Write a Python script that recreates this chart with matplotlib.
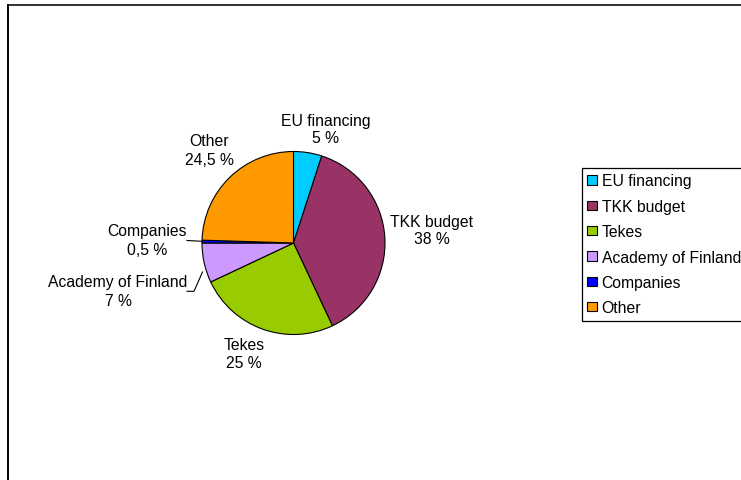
import matplotlib
matplotlib.use("Agg")
import matplotlib.pyplot as plt

plt.rcParams['font.family'] = ['Liberation Sans', 'DejaVu Sans']

categories = ["EU financing", "TKK budget", "Tekes", "Academy of Finland", "Companies", "Other"]
shares = [5, 38, 25, 7, 0.5, 24.5]
colors = ["#00CCFF", "#993366", "#99CC00", "#CC99FF", "#0000FF", "#FF9900"]

W, H = 741, 481
fig = plt.figure(figsize=(W / 100, H / 100), dpi=100)
ax = fig.add_axes([0, 0, 1, 1])

# pixel-like coordinate system, y downward
cx, cy, r = 293.5, 244.0, 91.5
wedges, _ = ax.pie(shares, colors=colors, startangle=-90, counterclock=True,
                   center=(cx, cy), radius=r,
                   wedgeprops=dict(edgecolor="black", linewidth=0.8))
ax.set_xlim(0, W)
ax.set_ylim(H, 0)
ax.set_aspect('equal')
ax.axis('off')

def fmt(v):
    return f"{v:g} %".replace('.', ',')

# label positions: (center x, first baseline, second baseline)
label_pos = [(326, 126, 143), (432, 227, 244), (244, 350, 368),
             (118, 287, 306), (147, 236, 255), (209, 146, 165)]
fs = 11.3
for name, v, (lx, b1, b2) in zip(categories, shares, label_pos):
    ax.text(lx, b1, name, ha='center', va='baseline', fontsize=fs, color='black')
    ax.text(lx, b2, fmt(v), ha='center', va='baseline', fontsize=fs, color='black')

# leader lines
ax.plot([187, 202], [241.5, 242.3], color='black', lw=0.8)
ax.plot([187, 194, 202.5], [292.3, 292.3, 273], color='black', lw=0.8)

# outer frame (partly cut off)
ax.plot([7.5, W + 5], [5.5, 5.5], color='#303030', lw=1.4, clip_on=False)
ax.plot([7.5, 7.5], [5.5, H + 5], color='black', lw=1.4, clip_on=False)

leg = ax.legend(wedges, categories, loc='upper left',
                bbox_to_anchor=(581.5 / W, 1 - 168.5 / H),
                bbox_transform=fig.transFigure, borderaxespad=0,
                fontsize=fs, frameon=True, fancybox=False, shadow=False,
                framealpha=1, edgecolor='black',
                handlelength=0.6, handleheight=0.55, handletextpad=0.3,
                labelspacing=0.66, borderpad=0.38)
leg.get_frame().set_linewidth(0.9)

fig.savefig("out.png", dpi=100)
